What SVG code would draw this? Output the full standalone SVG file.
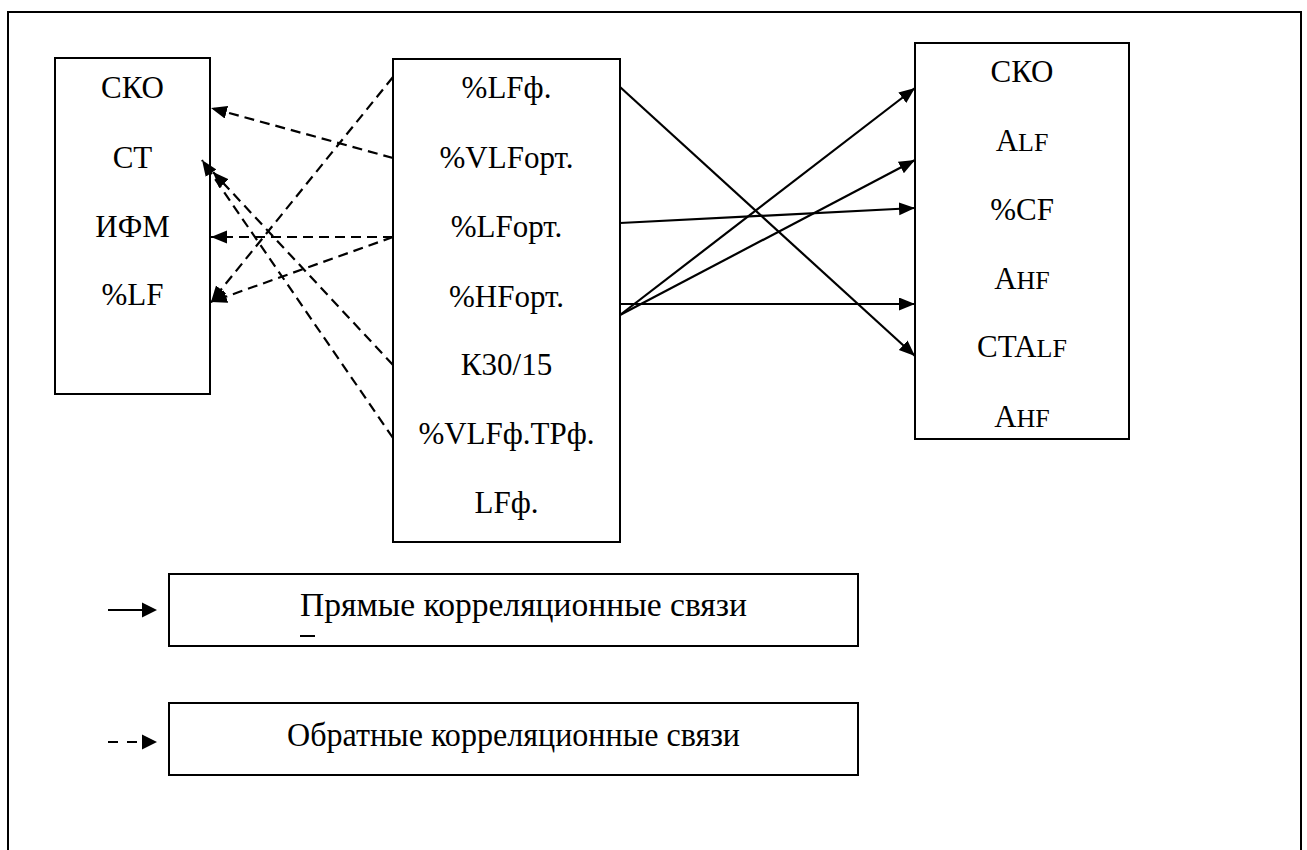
<svg xmlns="http://www.w3.org/2000/svg" width="1307" height="850" viewBox="0 0 1307 850">
  <style>
    text { font-family: 'Liberation Serif', 'DejaVu Serif', serif; fill: #000; }
    .box { fill: #fff; stroke: #000; stroke-width: 2; }
    .lbl { font-size: 31px; text-anchor: middle; }
    .sc { font-size: 26px; }
    .leg { font-size: 33px; }
    .solid { stroke: #000; stroke-width: 2.2; fill: none; }
    .dash { stroke: #000; stroke-width: 2.2; fill: none; stroke-dasharray: 10 6; }
  </style>
  <defs>
    <marker id="head" markerUnits="userSpaceOnUse" markerWidth="18" markerHeight="14" refX="16" refY="6.5" orient="auto">
      <path d="M0,0 L16,6.5 L0,13 Z" fill="#000"/>
    </marker>
  </defs>

  <rect width="1307" height="850" fill="#fff"/>

  <!-- outer frame, open at the bottom -->
  <path d="M8,850 V12 H1301 V850" fill="none" stroke="#000" stroke-width="2"/>

  <g id="left-box">
    <rect class="box" x="55" y="58" width="155" height="336"/>
    <text class="lbl" x="132.5" y="98" font-family="Liberation Serif, serif">СКО</text>
    <text class="lbl" x="132.5" y="168" font-family="Liberation Serif, serif">СТ</text>
    <text class="lbl" x="132.5" y="237" font-family="Liberation Serif, serif">ИФМ</text>
    <text class="lbl" x="132.5" y="305" font-family="Liberation Serif, serif">%LF</text>
  </g>

  <g id="middle-box">
    <rect class="box" x="393" y="59" width="227" height="483"/>
    <text class="lbl" x="506.5" y="98">%LFф.</text>
    <text class="lbl" x="506.5" y="168">%VLFорт.</text>
    <text class="lbl" x="506.5" y="237">%LFорт.</text>
    <text class="lbl" x="506.5" y="307">%HFорт.</text>
    <text class="lbl" x="506.5" y="375">К30/15</text>
    <text class="lbl" x="506.5" y="444">%VLFф.TPф.</text>
    <text class="lbl" x="506.5" y="513">LFф.</text>
  </g>

  <g id="right-box">
    <rect class="box" x="915" y="43" width="214" height="396"/>
    <text class="lbl" x="1022" y="82">СКО</text>
    <text class="lbl" x="1022" y="151">A<tspan class="sc">LF</tspan></text>
    <text class="lbl" x="1022" y="220">%CF</text>
    <text class="lbl" x="1022" y="289">A<tspan class="sc">HF</tspan></text>
    <text class="lbl" x="1022" y="357">CTA<tspan class="sc">LF</tspan></text>
    <text class="lbl" x="1022" y="427">A<tspan class="sc">HF</tspan></text>
  </g>

  <g id="connectors">
    <!-- inverse correlations -->
    <line class="dash" x1="393" y1="158" x2="211" y2="108" marker-end="url(#head)"/>
    <line class="dash" x1="393" y1="237" x2="211" y2="237" marker-end="url(#head)"/>
    <line class="dash" x1="393" y1="237" x2="211" y2="302" marker-end="url(#head)"/>
    <line class="dash" x1="393" y1="77" x2="211" y2="302" marker-end="url(#head)"/>
    <line class="dash" x1="393" y1="365" x2="213" y2="172" marker-end="url(#head)"/>
    <line class="dash" x1="393" y1="438" x2="202" y2="160" marker-end="url(#head)"/>
    <!-- direct correlations -->
    <line class="solid" x1="620" y1="87" x2="915" y2="356" marker-end="url(#head)"/>
    <line class="solid" x1="620" y1="223" x2="915" y2="208" marker-end="url(#head)"/>
    <line class="solid" x1="620" y1="304" x2="915" y2="304" marker-end="url(#head)"/>
    <line class="solid" x1="620" y1="315" x2="915" y2="88" marker-end="url(#head)"/>
    <line class="solid" x1="620" y1="315" x2="915" y2="160" marker-end="url(#head)"/>
  </g>

  <g id="legend-direct">
    <line class="solid" x1="108" y1="610" x2="143" y2="610"/>
    <path d="M142,602.5 L157,610 L142,617.5 Z" fill="#000"/>
    <rect class="box" x="169" y="574" width="689" height="72"/>
    <text class="leg" x="300" y="616" textLength="447" lengthAdjust="spacingAndGlyphs">Прямые корреляционные связи</text>
    <line x1="300" y1="636" x2="315" y2="636" stroke="#000" stroke-width="2"/>
  </g>

  <g id="legend-inverse">
    <line x1="108" y1="742" x2="118" y2="742" stroke="#000" stroke-width="2"/>
    <line x1="127" y1="742" x2="137" y2="742" stroke="#000" stroke-width="2"/>
    <path d="M142,734.5 L157,742 L142,749.5 Z" fill="#000"/>
    <rect class="box" x="169" y="703" width="689" height="72"/>
    <text class="leg" x="287" y="746" textLength="453" lengthAdjust="spacingAndGlyphs">Обратные корреляционные связи</text>
  </g>
</svg>
